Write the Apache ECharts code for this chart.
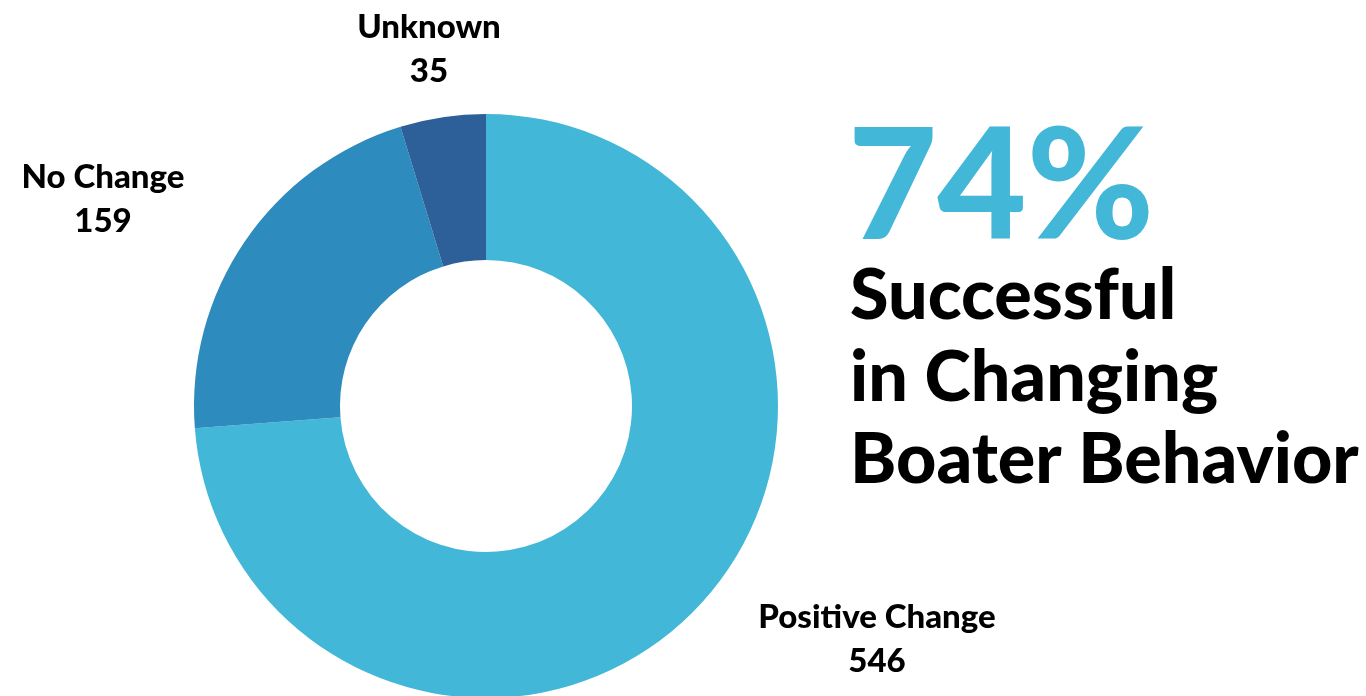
<!DOCTYPE html>
<html>
<head>
<meta charset="utf-8">
<script src="https://cdn.jsdelivr.net/npm/echarts@6/dist/echarts.min.js"></script>
<style>
  html, body { margin: 0; padding: 0; background: #ffffff; }
  #chart { width: 1366px; height: 696px; }
</style>
</head>
<body>
<div id="chart"></div>
<script>
// Outcome of boater contacts
const categories = ['Positive Change', 'No Change', 'Unknown'];
const counts = [546, 159, 35];
const sliceColors = ['#42b7d7', '#2e8bbd', '#2d5f98'];
const headlineLines = ['Successful', 'in Changing', 'Boater Behavior'];

const FONT = 'Lato, "Open Sans", sans-serif';

const total = counts.reduce((a, b) => a + b, 0);
const successPct = Math.round(counts[0] / total * 100);

// Where each slice label sits (label centre, in px)
const labelAnchor = [[877, 639], [103, 199], [429, 49]];

const chart = echarts.init(document.getElementById('chart'), null, { renderer: 'canvas' });

chart.setOption({
  animation: false,
  backgroundColor: '#ffffff',
  title: [
    {
      text: successPct + '%',
      left: 843,
      top: 107,
      textStyle: { fontFamily: FONT, fontWeight: 900, fontSize: 154, color: '#42b7d7' }
    },
    {
      text: headlineLines.join('\n'),
      left: 845,
      top: 250,
      textStyle: { fontFamily: FONT, fontWeight: 900, fontSize: 70, lineHeight: 82, color: '#000000' }
    }
  ],
  series: [{
    type: 'pie',
    center: [486, 406],
    radius: [146, 292],
    startAngle: 90,
    clockwise: true,
    avoidLabelOverlap: false,
    label: {
      show: true,
      position: 'outside',
      formatter: '{b}\n{c}',
      fontFamily: FONT,
      fontWeight: 900,
      fontSize: 33,
      lineHeight: 44,
      color: '#000000',
      align: 'center'
    },
    labelLine: { show: false },
    labelLayout: function (p) {
      const a = labelAnchor[p.dataIndex];
      return { x: a[0], y: a[1], align: 'center', verticalAlign: 'middle' };
    },
    emphasis: { disabled: true },
    data: categories.map((name, i) => ({
      name: name,
      value: counts[i],
      itemStyle: { color: sliceColors[i] }
    }))
  }]
});
</script>
</body>
</html>
